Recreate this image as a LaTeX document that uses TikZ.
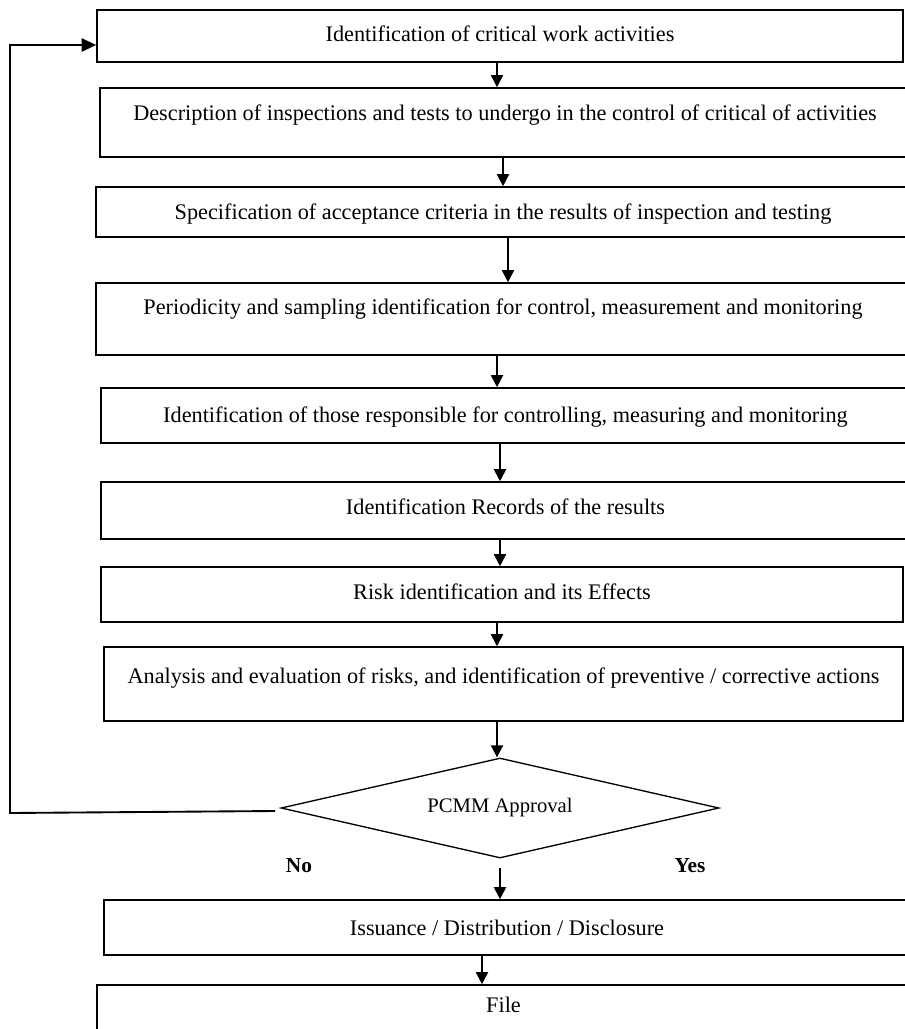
\documentclass[tikz,border=0pt]{standalone}
\usepackage{fontspec}
\setmainfont{Liberation Serif}
\usetikzlibrary{arrows.meta,shapes.geometric}
\begin{document}
\begin{tikzpicture}[x=0.75pt,y=-0.75pt,
  box/.style={draw,line width=1.2pt,inner sep=0pt,align=center,text height=15pt,
    font=\fontsize{16.7}{20}\selectfont},
  decision/.style={draw,diamond,aspect=4.38,line width=1pt,inner sep=0pt,
    font=\fontsize{15.5}{18}\selectfont},
  flow/.style={line width=1.4pt,-{Triangle[length=9pt,width=9pt]}},
  back/.style={line width=1.4pt,-{Triangle[length=11pt,width=10pt]}},
  tag/.style={font=\fontsize{16}{19}\selectfont\bfseries}]
\useasboundingbox (0,0) rectangle (905,1029);
\fill[white] (0,0) rectangle (905,1029);
\clip (0,0) rectangle (905,1029);

% process steps
\node[box,minimum width=604.5pt,minimum height=39pt,text depth=7pt] (b1) at (500,36)
  {Identification of critical work activities};
\node[box,minimum width=607.5pt,minimum height=51.75pt,text depth=18pt] (b2) at (505,122.5)
  {Description of inspections and tests to undergo in the control of critical of activities};
\node[box,minimum width=610.5pt,minimum height=37.5pt,text depth=4pt] (b3) at (503,212)
  {Specification of acceptance criteria in the results of inspection and testing};
\node[box,minimum width=610.5pt,minimum height=54pt,text depth=22pt] (b4) at (503,319)
  {Periodicity and sampling identification for control, measurement and monitoring};
\node[box,minimum width=606.75pt,minimum height=41.25pt,text depth=4pt] (b5) at (505.5,415.5)
  {Identification of those responsible for controlling, measuring and monitoring};
\node[box,minimum width=606.75pt,minimum height=42.75pt,text depth=9pt] (b6) at (505.5,510.5)
  {Identification Records of the results};
\node[box,minimum width=601.5pt,minimum height=41.25pt,text depth=8pt] (b7) at (502,594.5)
  {Risk identification and its Effects};
\node[box,minimum width=599.25pt,minimum height=55.5pt,text depth=16pt] (b8) at (503.5,684)
  {Analysis and evaluation of risks, and identification of preventive / corrective actions};
\node[decision,minimum width=328.5pt,minimum height=75pt] (d) at (500,808) {PCMM Approval};
\node[box,minimum width=604.5pt,minimum height=41.25pt,text depth=3pt] (b9) at (507,927.5)
  {Issuance / Distribution / Disclosure};
\node[box,minimum width=609.75pt,minimum height=41.25pt,text depth=15pt] (b10) at (503.5,1012.5)
  {File};

% decision outcomes
\node[tag] (no) at (299,866) {No};
\node[tag] (yes) at (690,866) {Yes};

% main flow
\draw[flow] (497,0 |- b1.south) -- (497,0 |- b2.north);
\draw[flow] (503,0 |- b2.south) -- (503,0 |- b3.north);
\draw[flow] (508,0 |- b3.south) -- (508,0 |- b4.north);
\draw[flow] (497,0 |- b4.south) -- (497,0 |- b5.north);
\draw[flow] (500,0 |- b5.south) -- (500,0 |- b6.north);
\draw[flow] (500,0 |- b6.south) -- (500,0 |- b7.north);
\draw[flow] (497,0 |- b7.south) -- (497,0 |- b8.north);
\draw[flow] (497,0 |- b8.south) -- (497,0 |- d.north);
\coordinate (yesout) at (500,868);
\draw[flow] (yesout) -- (500,0 |- b9.north);
\draw[flow] (482,0 |- b9.south) -- (482,0 |- b10.north);

% rejection loop back to the first step
\coordinate (noout) at (275,811);
\coordinate (corner) at (10,813);
\draw[back] (noout) -- (corner) -- (10,45) -- (b1.west |- 0,45);
\end{tikzpicture}
\end{document}
